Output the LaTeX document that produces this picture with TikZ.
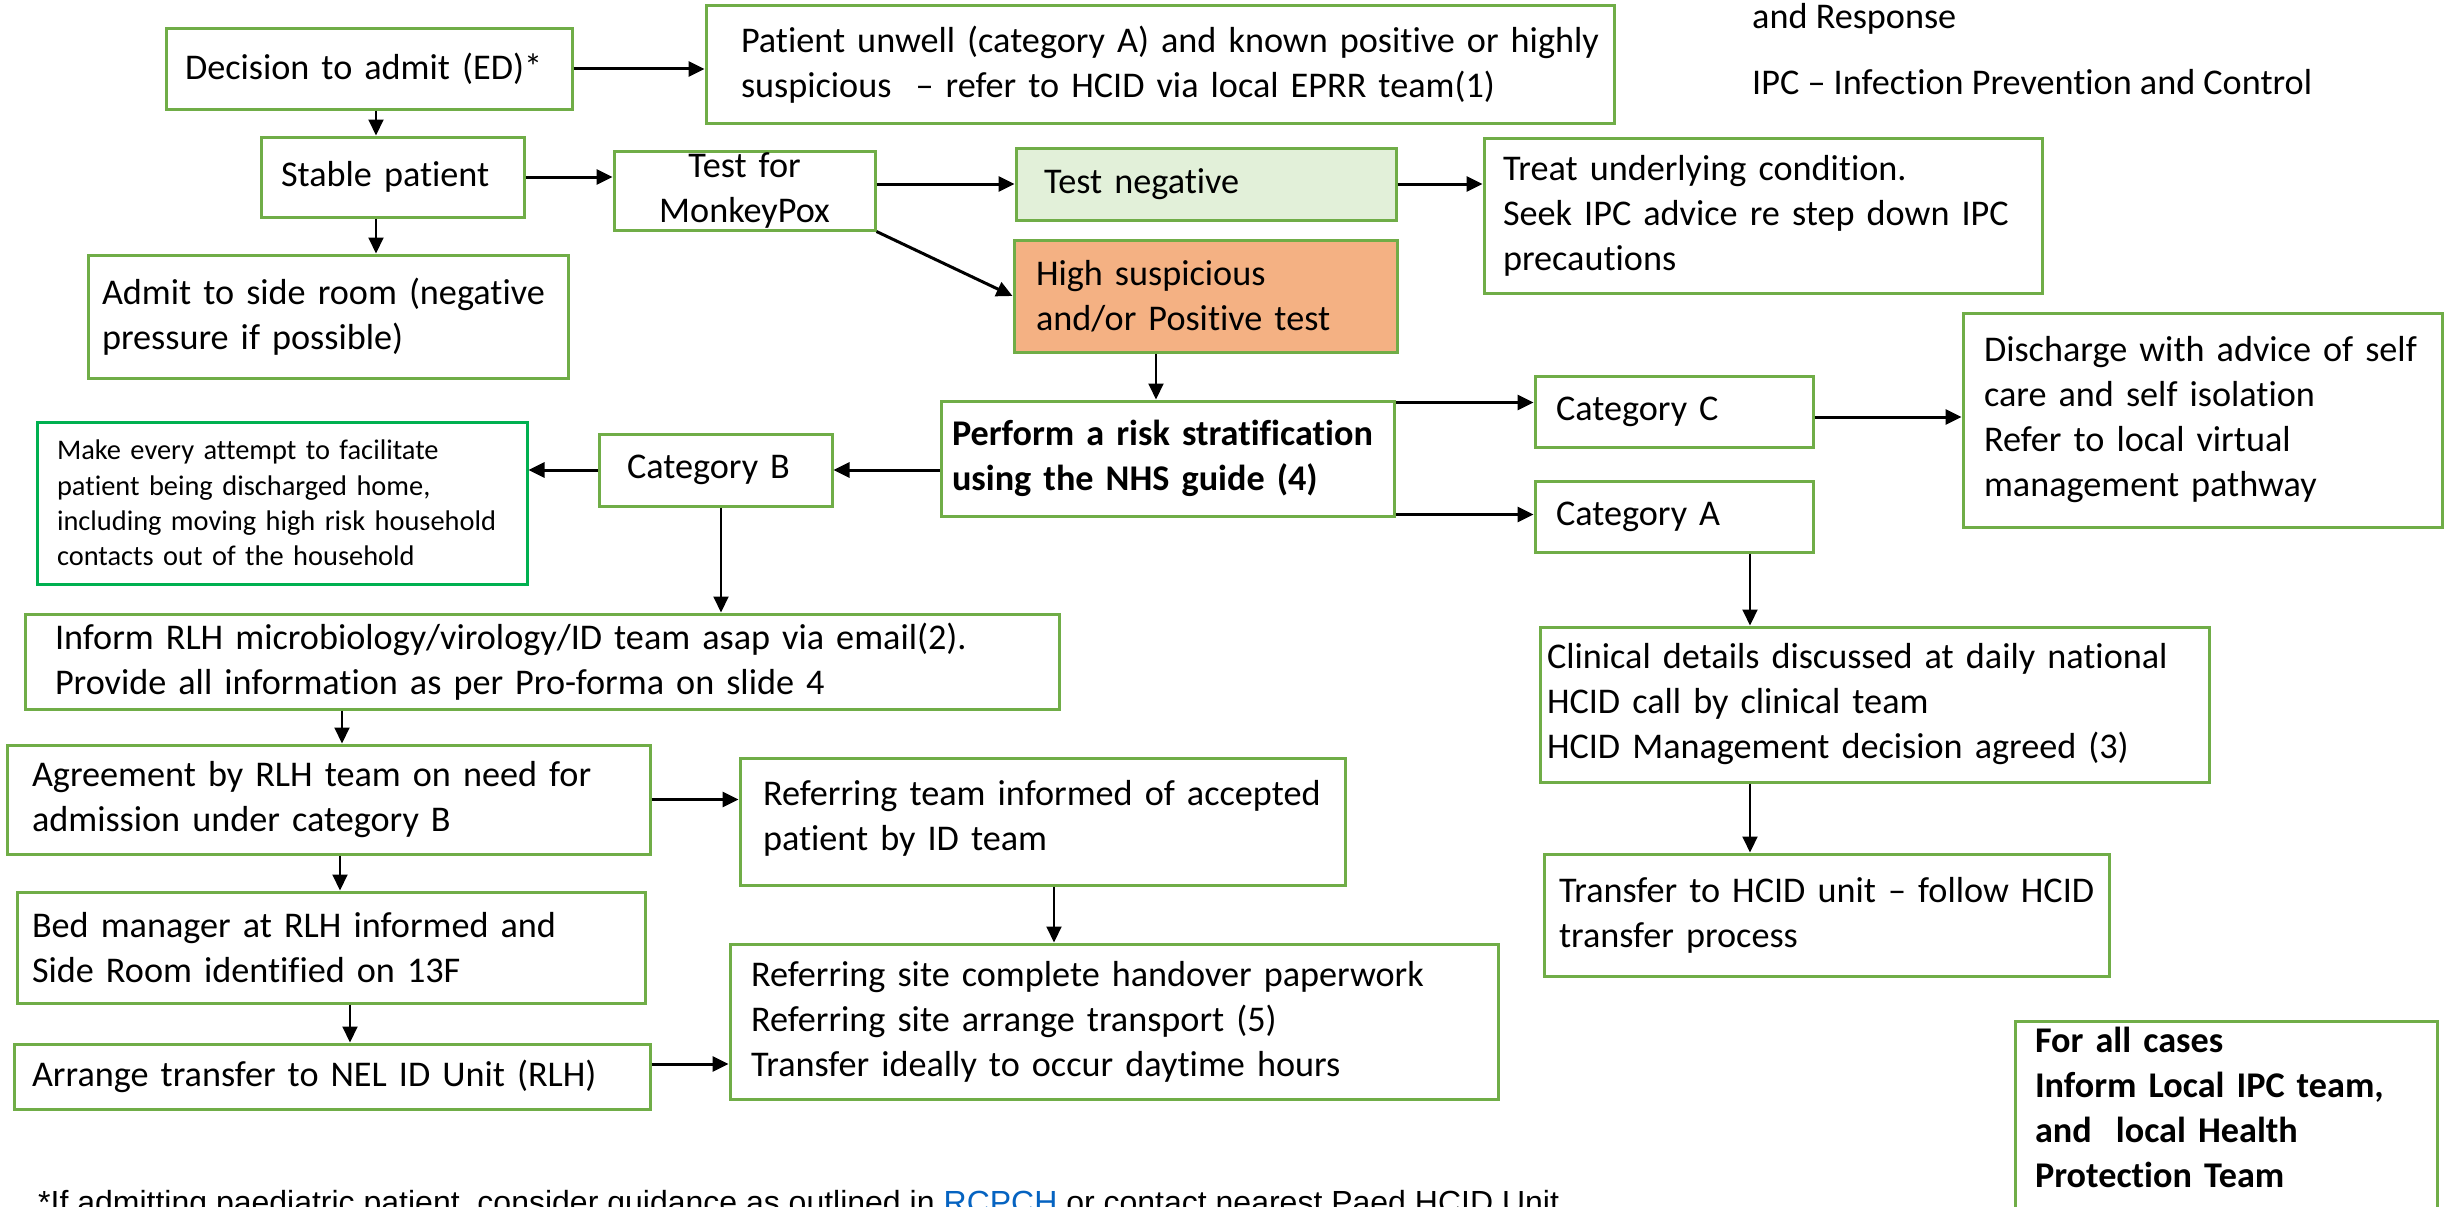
\documentclass[tikz,border=0pt]{standalone}
\usepackage{fontspec}
\setmainfont{Carlito}[Ligatures=NoCommon]
\newfontfamily\arialf{Liberation Sans}
\usetikzlibrary{arrows.meta}
\definecolor{grn}{HTML}{70AD47}
\definecolor{grntwo}{HTML}{00B050}
\definecolor{negfill}{HTML}{E2F0D9}
\definecolor{posfill}{HTML}{F4B183}
\definecolor{rcblue}{HTML}{0563C1}
\newcommand{\oneline}[1]{\mbox{#1}}
\tikzset{
  box/.style={draw=grn, line width=3pt, align=left, inner ysep=0pt, text=black,
    font=\fontsize{36.2pt}{45pt}\selectfont},
  arrthick/.style={line width=3pt, -{Triangle[length=16pt,width=15pt]}},
  arrthin/.style={line width=2pt, -{Triangle[length=16pt,width=15pt]}},
  plain/.style={inner sep=0pt, font=\fontsize{36.2pt}{45pt}\selectfont}
}
\begin{document}
\begin{tikzpicture}[x=1pt,y=-1pt]
\clip (0,0) rectangle (2453,1207);
\fill[white] (0,0) rectangle (2453,1207);

% nodes
\node[box, minimum height=80pt, text width=368pt, inner xsep=19pt] (dec) at (369,69) {\oneline{Decision to admit (ED)*}};
\node[box, minimum height=117pt, text width=838pt, inner xsep=35pt] (pat) at (1160,64.5)
  {\oneline{Patient unwell (category A) and known positive or highly}\\\oneline{suspicious \ – refer to HCID via local EPRR team(1)}};
\node[box, minimum height=80pt, text width=223pt, inner xsep=20pt] (stab) at (392.5,177) {\oneline{Stable patient}};
\node[box, minimum height=79pt, text width=241pt, inner xsep=10pt, align=center] (test) at (744.5,190.5) {Test for\\MonkeyPox};
\node[box, fill=negfill, minimum height=72pt, text width=324pt, inner xsep=28pt] (neg) at (1206,184) {\oneline{Test negative}};
\node[box, minimum height=155pt, text width=520pt, inner xsep=19pt] (treat) at (1763,215.5)
  {\oneline{Treat underlying condition.}\\\oneline{Seek IPC advice re step down IPC}\\\oneline{precautions}};
\node[box, fill=posfill, minimum height=112pt, text width=339pt, inner xsep=22pt] (high) at (1205.5,296)
  {\oneline{High suspicious}\\\oneline{and/or Positive test}};
\node[box, minimum height=123pt, text width=452pt, inner xsep=14pt] (admit) at (328,316.5)
  {\oneline{Admit to side room (negative}\\\oneline{pressure if possible)}};
\node[box, minimum height=115pt, text width=431pt, inner xsep=11pt, font=\fontsize{36.2pt}{45pt}\selectfont\bfseries] (perf) at (1167.5,458.5)
  {\oneline{Perform a risk stratification}\\\oneline{using the NHS guide (4)}};
\node[box, minimum height=71pt, text width=236pt, inner xsep=21pt] (catc) at (1674,411.5) {\oneline{Category C}};
\node[box, minimum height=71pt, text width=236pt, inner xsep=21pt] (cata) at (1674,516.5) {\oneline{Category A}};
\node[box, minimum height=214pt, text width=437pt, inner xsep=21pt] (disch) at (2202.5,420)
  {\oneline{Discharge with advice of self}\\\oneline{care and self isolation}\\\oneline{Refer to local virtual}\\\oneline{management pathway}};
\node[box, minimum height=72pt, text width=177pt, inner xsep=28pt] (catb) at (715.5,470) {\oneline{Category B}};
\node[box, draw=grntwo, minimum height=162pt, text width=450pt, inner xsep=20pt, font=\fontsize{28.4pt}{35.3pt}\selectfont] (make) at (282,503)
  {\oneline{Make every attempt to facilitate}\\\oneline{patient being discharged home,}\\\oneline{including moving high risk household}\\\oneline{contacts out of the household}};
\node[box, minimum height=95pt, text width=974pt, inner xsep=30pt] (inform) at (542,661.5)
  {\oneline{Inform RLH microbiology/virology/ID team asap via email(2).}\\\oneline{Provide all information as per Pro-forma on slide 4}};
\node[box, minimum height=155pt, text width=655pt, inner xsep=7pt] (clin) at (1874.5,704.5)
  {\oneline{Clinical details discussed at daily national}\\\oneline{HCID call by clinical team}\\\oneline{HCID Management decision agreed (3)}};
\node[box, minimum height=109pt, text width=593pt, inner xsep=25pt] (agree) at (328.5,799.5)
  {\oneline{Agreement by RLH team on need for}\\\oneline{admission under category B}};
\node[box, minimum height=127pt, text width=559pt, inner xsep=23pt] (reft) at (1042.5,821.5)
  {\oneline{Referring team informed of accepted}\\\oneline{patient by ID team}\rule[-12pt]{0pt}{0pt}};
\node[box, minimum height=122pt, text width=535pt, inner xsep=15pt] (hcid) at (1826.5,915)
  {\oneline{Transfer to HCID unit – follow HCID}\\\oneline{transfer process}};
\node[box, minimum height=111pt, text width=598pt, inner xsep=15pt] (bed) at (331,947.5)
  {\oneline{Bed manager at RLH informed and}\\\oneline{Side Room identified on 13F}};
\node[box, minimum height=65pt, text width=600pt, inner xsep=18pt] (arrange) at (332,1076.5)
  {\oneline{Arrange transfer to NEL ID Unit (RLH)}};
\node[box, minimum height=155pt, text width=726pt, inner xsep=21pt] (refs) at (1114,1021.5)
  {\oneline{Referring site complete handover paperwork}\\\oneline{Referring site arrange transport (5)}\\\oneline{Transfer ideally to occur daytime hours}};
\node[box, anchor=north, text width=382pt, inner xsep=20pt, inner ysep=6pt, font=\fontsize{36.2pt}{45pt}\selectfont\bfseries] (allc) at (2226,1020)
  {\oneline{For all cases}\\\oneline{Inform Local IPC team,}\\\oneline{and \ local Health}\\\oneline{Protection Team}\rule[-80pt]{0pt}{0pt}};

% free texts
\node[plain, anchor=base west] (resp) at (1752,29) {and Response};
\node[plain, anchor=base west] (ipc) at (1752,95) {IPC – Infection Prevention and Control};
\node[inner sep=0pt, anchor=base west, font=\arialf\fontsize{32pt}{40pt}\selectfont] (foot) at (38,1213)
  {*If admitting paediatric patient, consider guidance as outlined in \textcolor{rcblue}{RCPCH} or contact nearest Paed HCID Unit};

% connectors
\draw[arrthick] (dec.east) -- (dec.east -| pat.west);
\coordinate (c1) at ([xshift=7pt]dec.south);
\draw[arrthin] (c1) -- (c1 |- stab.north);
\draw[arrthick] (stab.east) -- (stab.east -| test.west);
\coordinate (c3) at ([yshift=6.5pt]test.east);
\draw[arrthick] (c3) -- (c3 -| neg.west);
\draw[arrthick] (neg.east) -- (neg.east -| treat.west);
\draw[arrthick] (test.south east) -- (high.west);
\coordinate (c2) at ([xshift=-16.5pt]stab.south);
\draw[arrthin] (c2) -- (c2 |- admit.north);
\coordinate (c4) at ([xshift=-11.5pt]perf.north);
\draw[arrthin] (c4 |- high.south) -- (c4);
\coordinate (c5) at ([yshift=-3pt]perf.north east);
\draw[arrthick] (c5) -- (c5 -| catc.west);
\coordinate (c6) at ([yshift=3pt]perf.south east);
\draw[arrthick] (c6) -- (c6 -| cata.west);
\draw[arrthick] (perf.west |- catb.east) -- (catb.east);
\draw[arrthick] (catb.west) -- (catb.west -| make.east);
\coordinate (c7) at ([xshift=5.5pt]catb.south);
\draw[arrthin] (c7) -- (c7 |- inform.north);
\coordinate (c8) at ([yshift=-5.5pt]catc.east);
\draw[arrthick] (c8) -- (c8 -| disch.west);
\coordinate (c9) at ([xshift=76pt]cata.south);
\draw[arrthin] (c9) -- (c9 |- clin.north);
\draw[arrthin] (c9 |- clin.south) -- (c9 |- hcid.north);
\coordinate (c10) at ([xshift=13.5pt]agree.north);
\draw[arrthin] (c10 |- inform.south) -- (c10);
\draw[arrthick] (agree.east) -- (agree.east -| reft.west);
\coordinate (c11) at ([xshift=11.5pt]agree.south);
\draw[arrthin] (c11) -- (c11 |- bed.north);
\coordinate (c12) at ([xshift=11.5pt]reft.south);
\draw[arrthin] (c12) -- (c12 |- refs.north);
\coordinate (c13) at ([xshift=19pt]bed.south);
\draw[arrthin] (c13) -- (c13 |- arrange.north);
\coordinate (c14) at ([yshift=12.5pt]arrange.east);
\draw[arrthick] (c14) -- (c14 -| refs.west);
\end{tikzpicture}
\end{document}
